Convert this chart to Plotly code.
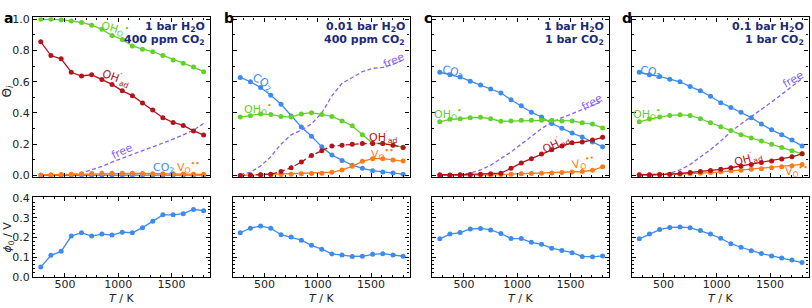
import plotly.graph_objects as go

# ---------------- data ----------------
T = [273, 368, 464, 559, 655, 750, 846, 941, 1037, 1132, 1227, 1323, 1418, 1514, 1609, 1705, 1800]

# panel a : 1 bar H2O, 400 ppm CO2
a_OHO = [1.000, 1.000, 0.998, 0.990, 0.980, 0.963, 0.936, 0.897, 0.871, 0.830, 0.809, 0.793, 0.768, 0.739, 0.719, 0.694, 0.665]
a_OHad = [0.856, 0.768, 0.747, 0.661, 0.637, 0.645, 0.614, 0.583, 0.542, 0.511, 0.464, 0.419, 0.370, 0.339, 0.320, 0.285, 0.259]
a_free = [0.0, 0.0, 0.001, 0.004, 0.014, 0.035, 0.058, 0.085, 0.110, 0.135, 0.158, 0.180, 0.205, 0.232, 0.260, 0.290, 0.333]
a_CO2 = [0.001, 0.001, 0.002, 0.002, 0.002, 0.002, 0.002, 0.002, 0.002, 0.002, 0.002, 0.002, 0.002, 0.002, 0.002, 0.002, 0.002]
a_VO = [0.003, 0.004, 0.005, 0.007, 0.010, 0.012, 0.013, 0.013, 0.013, 0.013, 0.012, 0.011, 0.010, 0.010, 0.009, 0.008, 0.007]

# panel b : 0.01 bar H2O, 400 ppm CO2
b_CO2 = [0.628, 0.600, 0.563, 0.513, 0.456, 0.380, 0.310, 0.251, 0.183, 0.130, 0.095, 0.065, 0.045, 0.030, 0.022, 0.015, 0.008]
b_OHO = [0.374, 0.382, 0.394, 0.390, 0.378, 0.374, 0.394, 0.402, 0.390, 0.378, 0.349, 0.318, 0.261, 0.207, 0.205, 0.195, 0.181]
b_OHad = [0.000, 0.002, 0.004, 0.008, 0.025, 0.049, 0.086, 0.127, 0.158, 0.188, 0.193, 0.199, 0.204, 0.205, 0.204, 0.193, 0.179]
b_VO = [0.000, 0.002, 0.004, 0.004, 0.006, 0.008, 0.010, 0.012, 0.014, 0.020, 0.035, 0.058, 0.090, 0.107, 0.107, 0.099, 0.092]
b_free = [0.005, 0.020, 0.060, 0.120, 0.200, 0.260, 0.290, 0.330, 0.400, 0.510, 0.590, 0.630, 0.665, 0.686, 0.692, 0.712, 0.739]

# panel c : 1 bar H2O, 1 bar CO2
c_CO2 = [0.661, 0.645, 0.630, 0.604, 0.579, 0.554, 0.528, 0.485, 0.446, 0.405, 0.374, 0.333, 0.302, 0.271, 0.246, 0.214, 0.183]
c_OHO = [0.343, 0.359, 0.363, 0.370, 0.372, 0.363, 0.347, 0.349, 0.353, 0.353, 0.353, 0.353, 0.349, 0.349, 0.337, 0.329, 0.304]
c_OHad = [0.004, 0.002, 0.004, 0.006, 0.008, 0.010, 0.014, 0.045, 0.080, 0.107, 0.137, 0.164, 0.189, 0.209, 0.214, 0.226, 0.244]
c_VO = [0.000, 0.000, 0.002, 0.002, 0.004, 0.004, 0.006, 0.008, 0.010, 0.012, 0.014, 0.016, 0.018, 0.021, 0.025, 0.033, 0.055]
c_free = [0.0, 0.001, 0.005, 0.015, 0.035, 0.065, 0.107, 0.150, 0.200, 0.250, 0.300, 0.340, 0.370, 0.395, 0.420, 0.445, 0.475]

# panel d : 0.1 bar H2O, 1 bar CO2
d_CO2 = [0.661, 0.645, 0.634, 0.616, 0.600, 0.569, 0.542, 0.507, 0.466, 0.435, 0.405, 0.370, 0.329, 0.292, 0.261, 0.226, 0.189]
d_OHO = [0.343, 0.361, 0.374, 0.384, 0.388, 0.384, 0.363, 0.337, 0.312, 0.287, 0.261, 0.240, 0.220, 0.199, 0.179, 0.158, 0.138]
d_OHad = [0.004, 0.004, 0.006, 0.008, 0.012, 0.018, 0.025, 0.031, 0.039, 0.049, 0.060, 0.070, 0.082, 0.092, 0.105, 0.119, 0.138]
d_VO = [0.002, 0.002, 0.004, 0.006, 0.008, 0.010, 0.014, 0.018, 0.023, 0.029, 0.033, 0.039, 0.043, 0.049, 0.055, 0.062, 0.070]
d_free = [0.0, 0.0, 0.004, 0.015, 0.035, 0.070, 0.115, 0.165, 0.220, 0.280, 0.330, 0.375, 0.420, 0.470, 0.520, 0.570, 0.620]

# surface potential phi_0 / V
phi_a = [0.049, 0.109, 0.129, 0.207, 0.224, 0.207, 0.217, 0.212, 0.227, 0.224, 0.250, 0.283, 0.315, 0.315, 0.321, 0.343, 0.336]
phi_b = [0.224, 0.247, 0.258, 0.247, 0.214, 0.202, 0.186, 0.160, 0.140, 0.116, 0.111, 0.103, 0.104, 0.114, 0.117, 0.111, 0.104]
phi_c = [0.193, 0.217, 0.225, 0.243, 0.246, 0.238, 0.220, 0.194, 0.194, 0.175, 0.165, 0.145, 0.134, 0.122, 0.103, 0.101, 0.106]
phi_d = [0.193, 0.217, 0.240, 0.251, 0.253, 0.250, 0.235, 0.217, 0.196, 0.168, 0.150, 0.132, 0.118, 0.106, 0.095, 0.085, 0.072]

panel_letters = ["a", "b", "c", "d"]
cond_line1 = ["1 bar H<sub>2</sub>O", "0.01 bar H<sub>2</sub>O", "1 bar H<sub>2</sub>O", "0.1 bar H<sub>2</sub>O"]
cond_line2 = ["400 ppm CO<sub>2</sub>", "400 ppm CO<sub>2</sub>", "1 bar CO<sub>2</sub>", "1 bar CO<sub>2</sub>"]

# ---------------- styling ----------------
W, H = 812, 308
GREEN = "#62d12c"
RED = "#b3141c"
BLUE = "#3d8af0"
ORANGE = "#ff7a1c"
PURPLE = "#8a62ee"
NAVY = "#1c2a78"
FONT = "DejaVu Sans"

def PX(x):
    return x / W

def PY(y):
    return 1 - y / H

lefts = [33, 232.5, 432, 631.5]
pw = 177
top_dom = [PY(179), PY(13)]
bot_dom = [PY(283), PY(200)]

fig = go.Figure()

def line(xa, ya, y, color, dash=None, marker=True):
    fig.add_trace(go.Scatter(
        x=T, y=y, xaxis=xa, yaxis=ya,
        mode="lines+markers" if marker else "lines",
        line=dict(color=color, width=1.3, dash=dash),
        marker=dict(color=color, size=5),
        showlegend=False, hoverinfo="skip"))

top_sets = [
    (a_free, a_CO2, a_VO, a_OHO, a_OHad, None),
    (b_free, b_CO2, b_VO, b_OHO, b_OHad, "5px,3px"),
    (c_free, c_CO2, c_VO, c_OHO, c_OHad, None),
    (d_free, d_CO2, d_VO, d_OHO, d_OHad, None),
]
phis = [phi_a, phi_b, phi_c, phi_d]

for i, (fr, co2, vo, oho, ohad, rdash) in enumerate(top_sets):
    xa, ya = f"x{i+1}", f"y{i+1}"
    line(xa, ya, fr, PURPLE, dash="4px,2.5px", marker=False)
    line(xa, ya, co2, BLUE)
    line(xa, ya, oho, GREEN)
    line(xa, ya, vo, ORANGE)
    line(xa, ya, ohad, RED, dash=rdash)
    line(f"x{i+5}", f"y{i+5}", phis[i], BLUE)

axis_common = dict(
    showline=True, linecolor="black", linewidth=1.2, mirror="allticks",
    ticks="inside", ticklen=4, tickwidth=1, tickcolor="black",
    showgrid=False, zeroline=False,
    tickfont=dict(family=FONT, size=11, color="#222"),
)

layout = dict(
    width=W, height=H, margin=dict(l=0, r=0, t=0, b=0),
    paper_bgcolor="white", plot_bgcolor="white",
    font=dict(family=FONT, size=11, color="#222"),
    showlegend=False,
)

for i in range(4):
    dom = [PX(lefts[i]), PX(lefts[i] + pw)]
    # top row
    layout[f"xaxis{i+1}"] = dict(axis_common, domain=dom, range=[200, 1860], anchor=f"y{i+1}",
                                 dtick=500, tick0=0, showticklabels=False,
                                 minor=dict(dtick=100, tick0=0, ticks="inside", ticklen=2, tickcolor="black"))
    layout[f"yaxis{i+1}"] = dict(axis_common, domain=top_dom, range=[-0.0105, 1.012], anchor=f"x{i+1}",
                                 dtick=0.2, tick0=0, tickformat=".1f", showticklabels=(i == 0),
                                 minor=dict(dtick=0.1, tick0=0, ticks="inside", ticklen=2, tickcolor="black"))
    # bottom row
    layout[f"xaxis{i+5}"] = dict(axis_common, domain=dom, range=[200, 1860], anchor=f"y{i+5}",
                                 dtick=500, tick0=0, showticklabels=True, ticklabelstandoff=-3,
                                 minor=dict(dtick=100, tick0=0, ticks="inside", ticklen=2, tickcolor="black"))
    layout[f"yaxis{i+5}"] = dict(axis_common, domain=bot_dom, range=[-0.0015, 0.405], anchor=f"x{i+5}",
                                 dtick=0.1, tick0=0, tickformat=".1f", showticklabels=(i == 0),
                                 minor=dict(dtick=0.02, tick0=0, ticks="inside", ticklen=2, tickcolor="black"))

fig.update_layout(**layout)

ann = []

def text(x, y, s, color="#222", size=11, angle=0, xanchor="center", yanchor="middle", bold=False):
    ann.append(dict(x=PX(x), y=PY(y), xref="paper", yref="paper", text=s, showarrow=False,
                    textangle=angle, xanchor=xanchor, yanchor=yanchor,
                    font=dict(family=FONT, size=size, color=color,
                              weight="bold" if bold else "normal")))

letter_x = [2, 222, 422, 620]
for i in range(4):
    text(letter_x[i], 3, panel_letters[i], color="black", size=14, xanchor="left", yanchor="top", bold=True)
    right = lefts[i] + pw - 3
    text(right, 23, cond_line1[i], color=NAVY, size=11, xanchor="right", bold=True)
    text(right, 36, cond_line2[i], color=NAVY, size=11, xanchor="right", bold=True)
    text(lefts[i] + pw / 2, 314, "<i>T</i> / K", size=11, yanchor="bottom")

text(8, 90, "Θ<sub><i>i</i></sub>", size=12, angle=-90)
text(8, 242, "<i>ϕ</i><sub>0</sub> / V", size=11, angle=-90)

OHO = "OH<sub>O</sub><sup>•</sup>"
OHAD = "OH<sup>′</sup><sub>ad</sub>"
VO = "V<sub>O</sub><sup>••</sup>"
CO2 = "CO<sub>2</sub>"

# panel a labels
text(115, 25, OHO, GREEN, angle=15)
text(116, 76, OHAD, RED, angle=20)
text(122, 152, "free", PURPLE, angle=-25)
text(163, 170, CO2, BLUE)
text(188, 169, VO, ORANGE)
# panel b labels
text(262, 80, CO2, BLUE, angle=30)
text(258, 108, OHO, GREEN)
text(383, 137, OHAD, RED)
text(382, 155, VO, ORANGE)
text(394, 58, "free", PURPLE, angle=-25)
# panel c labels
text(452, 70, CO2, BLUE, angle=12)
text(448, 113, OHO, GREEN)
text(592, 101, "free", PURPLE, angle=-30)
text(556, 145, OHAD, RED, angle=-25)
text(583, 164, VO, ORANGE, angle=-10)
# panel d labels
text(650, 70, CO2, BLUE, angle=10)
text(647, 113, OHO, GREEN)
text(793, 77, "free", PURPLE, angle=-30)
text(748, 160, OHAD, RED, angle=-15)
text(796, 173, VO, ORANGE)

fig.update_layout(annotations=ann)
fig.write_html("out.html", config={"displayModeBar": False},
               post_script="document.body.style.margin='0';document.body.style.overflow='hidden';")
